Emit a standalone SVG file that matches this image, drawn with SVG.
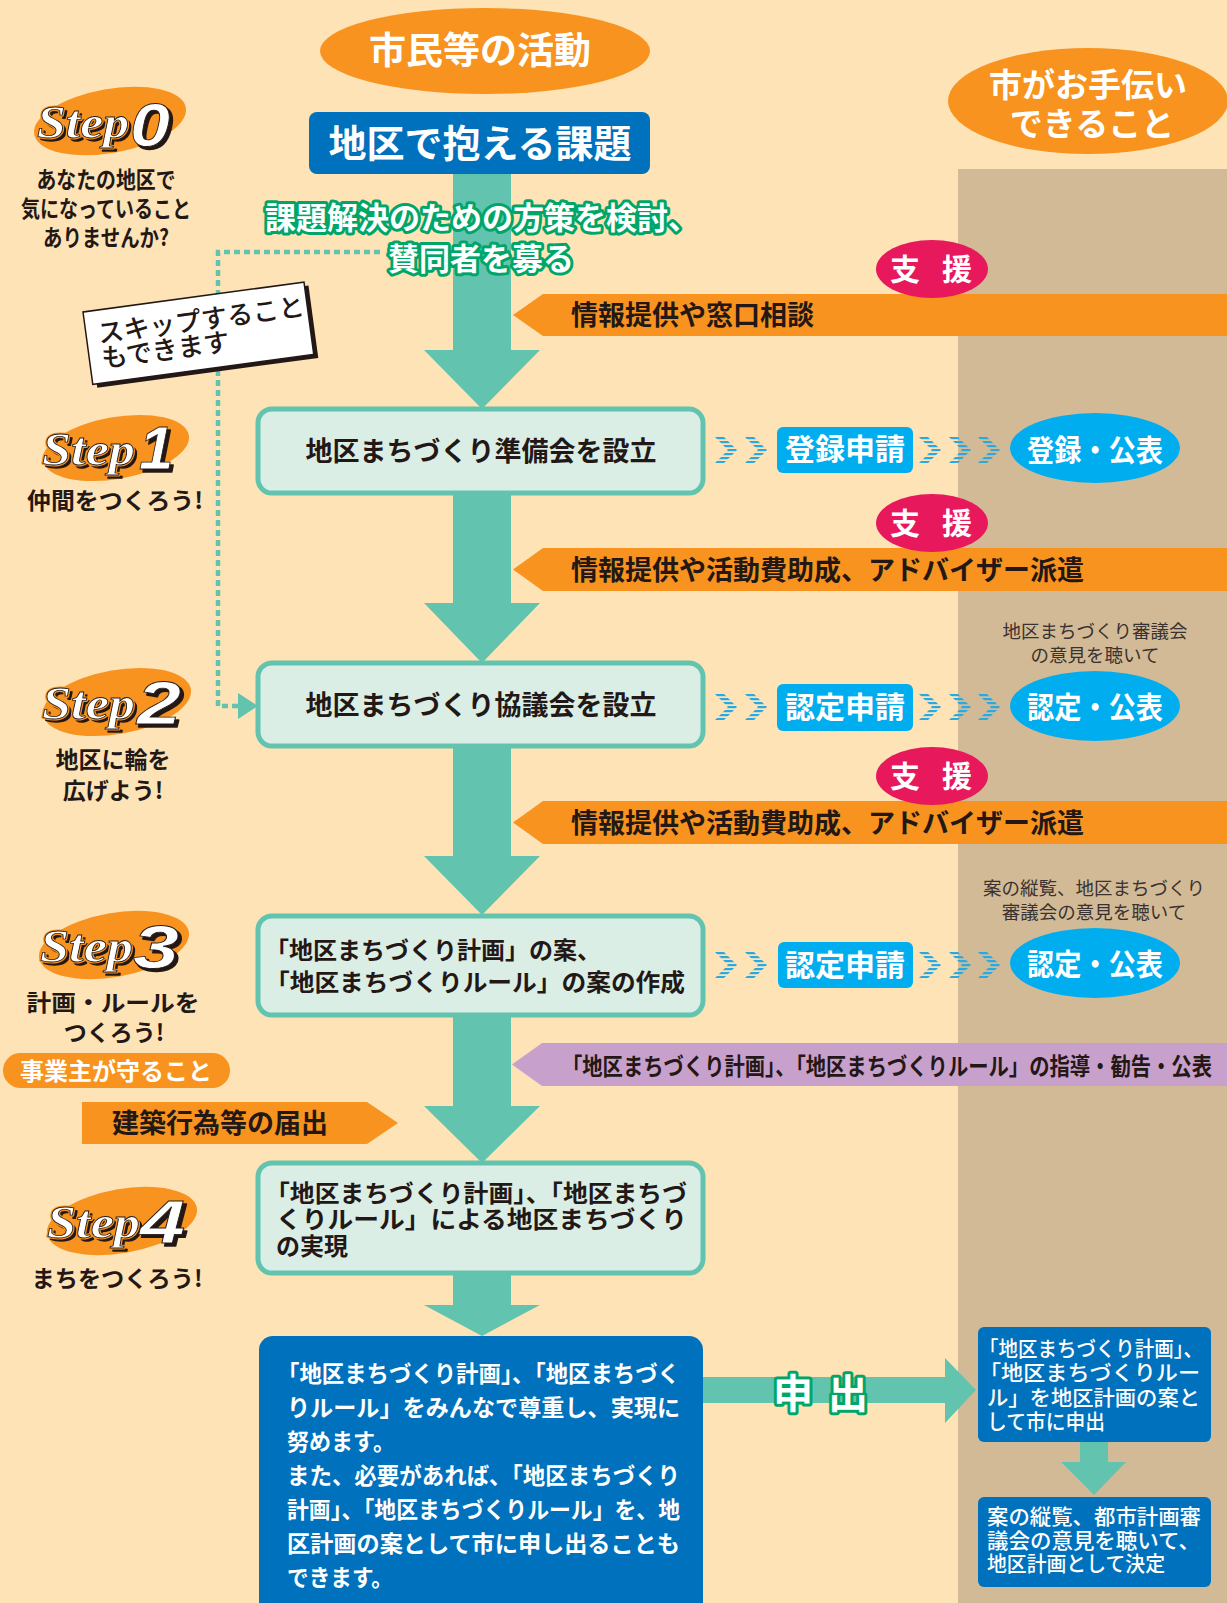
<svg xmlns="http://www.w3.org/2000/svg" width="1227" height="1603" viewBox="0 0 1227 1603">
<defs>
<style>
text{font-family:'Noto Sans CJK JP','Noto Sans',sans-serif;}
.b{font-weight:700}
.dk{fill:#231815}
.wh{fill:#fff}
.shaft{fill:#62C4AE}
.stepbox{fill:#DAEEE6;stroke:#62C4AE;stroke-width:5}
.orange{fill:#F7931E}
.pink{fill:#E8185D}
.cyan{fill:#00AEEF}
.blue{fill:#0071BC}
.chev{fill:url(#stripes)}
.green{fill:#fff;stroke:#00A669;stroke-width:6;paint-order:stroke;stroke-linejoin:round}
.stepw{font-family:'Liberation Serif',serif;font-style:italic;font-weight:700;font-size:46px}
.stepn{font-family:'Liberation Sans',sans-serif;font-style:italic;font-weight:700;font-size:62px}
.shadow{fill:#231815;stroke:#231815;stroke-width:1.5;stroke-linejoin:round}
.halo{fill:#fff;stroke:#F7931E;stroke-width:3;stroke-linejoin:round}
.front{fill:#fff;stroke:#231815;stroke-width:0.8}
.sub{font-size:23px;font-weight:700;fill:#231815;text-anchor:middle}
.note{font-size:18.5px;fill:#3a3230;text-anchor:middle}
.mid{text-anchor:middle}
.dots{fill:none;stroke:#62C4AE;stroke-width:4.5;stroke-dasharray:6 4}
</style>
<pattern id="stripes" patternUnits="userSpaceOnUse" width="6" height="4"><rect width="6" height="2.2" fill="#29A9E1"/></pattern>
<polygon id="chev" points="0,0 9,0 22,13 9,26 0,26 13,13"/>
</defs>

<rect width="1227" height="1603" fill="#FDE3B5"/>
<rect x="958" y="169" width="269" height="1434" fill="#D2BA96"/>

<g id="connectors">
  <polygon class="shaft" points="453,174 511,174 511,350 540,350 482,409 424,350 453,350"/>
  <polygon class="shaft" points="453,493 511,493 511,603 540,603 482,663 424,603 453,603"/>
  <polygon class="shaft" points="453,746 511,746 511,856 540,856 482,915 424,856 453,856"/>
  <polygon class="shaft" points="453,1015 511,1015 511,1106 540,1106 482,1163 424,1106 453,1106"/>
  <polygon class="shaft" points="453,1273 511,1273 511,1305 540,1305 482,1336 424,1305 453,1305"/>
  <path class="dots" d="M380,252 H218 V706 H238"/>
  <polygon class="shaft" points="238,693 258,706 238,719"/>
  <polygon class="shaft" points="703,1377 945,1377 945,1358 976,1390 945,1423 945,1403 703,1403"/>
  <polygon class="shaft" points="1080,1442 1108,1442 1108,1462 1126,1462 1094,1495 1061,1462 1080,1462"/>
  <use href="#chev" class="chev" x="715" y="437"/>
  <use href="#chev" class="chev" x="745" y="437"/>
  <use href="#chev" class="chev" x="919" y="437"/>
  <use href="#chev" class="chev" x="949" y="437"/>
  <use href="#chev" class="chev" x="978" y="437"/>
  <use href="#chev" class="chev" x="715" y="694"/>
  <use href="#chev" class="chev" x="745" y="694"/>
  <use href="#chev" class="chev" x="919" y="694"/>
  <use href="#chev" class="chev" x="949" y="694"/>
  <use href="#chev" class="chev" x="978" y="694"/>
  <use href="#chev" class="chev" x="715" y="952"/>
  <use href="#chev" class="chev" x="745" y="952"/>
  <use href="#chev" class="chev" x="919" y="952"/>
  <use href="#chev" class="chev" x="949" y="952"/>
  <use href="#chev" class="chev" x="978" y="952"/>
  <text class="green b" x="773" y="1408" font-size="40">申</text>
  <text class="green b" x="828" y="1408" font-size="40">出</text>
</g>

<g id="title-citizen">
  <ellipse class="orange" cx="485" cy="51" rx="165" ry="43"/>
  <text class="wh b mid" x="480" y="64" font-size="37">市民等の活動</text>
</g>
<g id="title-city">
  <ellipse class="orange" cx="1088" cy="101" rx="140" ry="53"/>
  <text class="wh b mid" x="1088" y="97" font-size="33">市がお手伝い</text>
  <text class="wh b mid" x="1092" y="136" font-size="33">できること</text>
</g>

<g id="issue">
  <rect class="blue" x="309" y="112" width="341" height="62" rx="8"/>
  <text class="wh b mid" x="480" y="157" font-size="38">地区で抱える課題</text>
</g>
<g id="consider">
  <text class="green b mid" x="482" y="229" font-size="31">課題解決のための方策を検討、</text>
  <text class="green b mid" x="481" y="270" font-size="31">賛同者を募る</text>
</g>

<g id="skip" transform="translate(83,312) rotate(-7.7)">
  <rect x="4" y="4" width="223" height="73" fill="#231815"/>
  <rect x="0" y="0" width="223" height="73" fill="#fff" stroke="#231815" stroke-width="1.5"/>
  <text class="dk" x="12" y="33" font-size="26" font-weight="500">スキップすること</text>
  <text class="dk" x="12" y="58" font-size="26" font-weight="500">もできます</text>
</g>

<g id="step0">
  <ellipse class="orange" cx="110" cy="121" rx="77" ry="32" transform="rotate(-10 110 121)"/>
  <text class="stepw shadow" x="40" y="141" textLength="92" lengthAdjust="spacingAndGlyphs">Step</text>
  <text class="stepw halo" x="37" y="138" textLength="92" lengthAdjust="spacingAndGlyphs">Step</text>
  <text class="stepw front" x="37" y="138" textLength="92" lengthAdjust="spacingAndGlyphs">Step</text>
  <text class="stepn shadow" x="133" y="149" textLength="40" lengthAdjust="spacingAndGlyphs">0</text>
  <text class="stepn front" x="130" y="146" textLength="40" lengthAdjust="spacingAndGlyphs">0</text>
  <text class="sub" x="106" y="188" textLength="139" lengthAdjust="spacingAndGlyphs">あなたの地区で</text>
  <text class="sub" x="106" y="217" textLength="170" lengthAdjust="spacingAndGlyphs">気になっていること</text>
  <text class="sub" x="106" y="246" textLength="126" lengthAdjust="spacingAndGlyphs">ありませんか?</text>
</g>

<g id="step1">
  <ellipse class="orange" cx="116" cy="448" rx="74" ry="31" transform="rotate(-10 116 448)"/>
  <text class="stepw shadow" x="45" y="468" textLength="93" lengthAdjust="spacingAndGlyphs">Step</text>
  <text class="stepw halo" x="42" y="465" textLength="93" lengthAdjust="spacingAndGlyphs">Step</text>
  <text class="stepw front" x="42" y="465" textLength="93" lengthAdjust="spacingAndGlyphs">Step</text>
  <text class="stepn shadow" x="142" y="472">1</text>
  <text class="stepn front" x="139" y="469">1</text>
  <text class="sub" x="115" y="509" textLength="176" lengthAdjust="spacingAndGlyphs">仲間をつくろう!</text>
</g>
<g id="box1">
  <rect class="stepbox" x="258" y="409" width="445" height="84" rx="14"/>
  <text class="dk b mid" x="481" y="461" font-size="27">地区まちづくり準備会を設立</text>
</g>
<g id="apply1">
  <rect class="cyan" x="777" y="427" width="136" height="46" rx="6"/>
  <text class="wh b mid" x="845" y="460" font-size="30">登録申請</text>
</g>
<g id="result1">
  <ellipse class="cyan" cx="1095" cy="448" rx="85" ry="35"/>
  <text class="wh b mid" x="1095" y="461" font-size="30" textLength="136" lengthAdjust="spacingAndGlyphs">登録・公表</text>
</g>
<g id="support1">
  <polygon class="orange" points="513,315 543,294 1227,294 1227,336 543,336"/>
  <ellipse class="pink" cx="932" cy="269" rx="56" ry="29"/>
  <text class="wh b" x="890" y="280" font-size="30">支</text>
  <text class="wh b" x="942" y="280" font-size="30">援</text>
  <text class="dk b" x="571" y="325" font-size="27">情報提供や窓口相談</text>
</g>

<g id="support2">
  <polygon class="orange" points="513,569.5 543,548 1227,548 1227,591 543,591"/>
  <ellipse class="pink" cx="932" cy="523" rx="56" ry="29"/>
  <text class="wh b" x="890" y="534" font-size="30">支</text>
  <text class="wh b" x="942" y="534" font-size="30">援</text>
  <text class="dk b" x="571" y="580" font-size="27">情報提供や活動費助成、アドバイザー派遣</text>
</g>

<g id="step2">
  <ellipse class="orange" cx="117" cy="702" rx="75" ry="32" transform="rotate(-10 117 702)"/>
  <text class="stepw shadow" x="45" y="722" textLength="93" lengthAdjust="spacingAndGlyphs">Step</text>
  <text class="stepw halo" x="42" y="719" textLength="93" lengthAdjust="spacingAndGlyphs">Step</text>
  <text class="stepw front" x="42" y="719" textLength="93" lengthAdjust="spacingAndGlyphs">Step</text>
  <text class="stepn shadow" x="140" y="727" textLength="44" lengthAdjust="spacingAndGlyphs">2</text>
  <text class="stepn front" x="137" y="724" textLength="44" lengthAdjust="spacingAndGlyphs">2</text>
  <text class="sub" x="113" y="768" font-size="24">地区に輪を</text>
  <text class="sub" x="113" y="799" font-size="24">広げよう!</text>
</g>
<g id="box2">
  <rect class="stepbox" x="258" y="663" width="445" height="83" rx="14"/>
  <text class="dk b mid" x="481" y="715" font-size="27">地区まちづくり協議会を設立</text>
</g>
<g id="apply2">
  <rect class="cyan" x="777" y="684" width="136" height="47" rx="6"/>
  <text class="wh b mid" x="845" y="718" font-size="30">認定申請</text>
</g>
<g id="result2">
  <text class="note" x="1095" y="638">地区まちづくり審議会</text>
  <text class="note" x="1095" y="662">の意見を聴いて</text>
  <ellipse class="cyan" cx="1095" cy="706" rx="85" ry="35"/>
  <text class="wh b mid" x="1095" y="718" font-size="30" textLength="136" lengthAdjust="spacingAndGlyphs">認定・公表</text>
</g>

<g id="support3">
  <polygon class="orange" points="513,822.5 543,801 1227,801 1227,844 543,844"/>
  <ellipse class="pink" cx="932" cy="776" rx="56" ry="29"/>
  <text class="wh b" x="890" y="787" font-size="30">支</text>
  <text class="wh b" x="942" y="787" font-size="30">援</text>
  <text class="dk b" x="571" y="833" font-size="27">情報提供や活動費助成、アドバイザー派遣</text>
</g>

<g id="step3">
  <ellipse class="orange" cx="114" cy="945" rx="76" ry="32" transform="rotate(-10 114 945)"/>
  <text class="stepw shadow" x="43" y="965" textLength="93" lengthAdjust="spacingAndGlyphs">Step</text>
  <text class="stepw halo" x="40" y="962" textLength="93" lengthAdjust="spacingAndGlyphs">Step</text>
  <text class="stepw front" x="40" y="962" textLength="93" lengthAdjust="spacingAndGlyphs">Step</text>
  <text class="stepn shadow" x="136" y="971" textLength="46" lengthAdjust="spacingAndGlyphs">3</text>
  <text class="stepn front" x="133" y="968" textLength="46" lengthAdjust="spacingAndGlyphs">3</text>
  <text class="sub" x="113" y="1011" font-size="24" textLength="173" lengthAdjust="spacingAndGlyphs">計画・ルールを</text>
  <text class="sub" x="114" y="1041" font-size="24">つくろう!</text>
</g>
<g id="box3">
  <rect class="stepbox" x="258" y="916" width="445" height="99" rx="14"/>
  <text class="dk b" x="265" y="959" font-size="24">「地区まちづくり計画」の案、</text>
  <text class="dk b" x="265" y="991" font-size="24" textLength="420" lengthAdjust="spacingAndGlyphs">「地区まちづくりルール」の案の作成</text>
</g>
<g id="apply3">
  <rect class="cyan" x="778" y="942" width="135" height="46" rx="6"/>
  <text class="wh b mid" x="845" y="976" font-size="30">認定申請</text>
</g>
<g id="result3">
  <text class="note" x="1094" y="895">案の縦覧、地区まちづくり</text>
  <text class="note" x="1094" y="919">審議会の意見を聴いて</text>
  <ellipse class="cyan" cx="1095" cy="963" rx="85" ry="35"/>
  <text class="wh b mid" x="1095" y="975" font-size="30" textLength="136" lengthAdjust="spacingAndGlyphs">認定・公表</text>
</g>

<g id="guidance">
  <polygon points="512,1064.5 542,1043 1227,1043 1227,1086 542,1086" fill="#C8A0CC"/>
  <text class="dk b" x="562" y="1075" font-size="24" textLength="650" lengthAdjust="spacingAndGlyphs">「地区まちづくり計画」、「地区まちづくりルール」の指導・勧告・公表</text>
</g>
<g id="owner">
  <rect class="orange" x="3" y="1053" width="227" height="35" rx="17.5"/>
  <text class="wh b" x="20" y="1080" font-size="24">事業主が守ること</text>
</g>
<g id="notify">
  <polygon class="orange" points="82,1102 367,1102 398,1123 367,1144 82,1144"/>
  <text class="dk b" x="112" y="1133" font-size="27">建築行為等の届出</text>
</g>

<g id="step4">
  <ellipse class="orange" cx="122" cy="1221" rx="76" ry="32" transform="rotate(-10 122 1221)"/>
  <text class="stepw shadow" x="50" y="1241" textLength="93" lengthAdjust="spacingAndGlyphs">Step</text>
  <text class="stepw halo" x="47" y="1238" textLength="93" lengthAdjust="spacingAndGlyphs">Step</text>
  <text class="stepw front" x="47" y="1238" textLength="93" lengthAdjust="spacingAndGlyphs">Step</text>
  <text class="stepn shadow" x="143" y="1246" textLength="45" lengthAdjust="spacingAndGlyphs">4</text>
  <text class="stepn front" x="140" y="1243" textLength="45" lengthAdjust="spacingAndGlyphs">4</text>
  <text class="sub" x="117" y="1287" textLength="171" lengthAdjust="spacingAndGlyphs">まちをつくろう!</text>
</g>
<g id="box4">
  <rect class="stepbox" x="258" y="1163" width="445" height="110" rx="14"/>
  <text class="dk b" x="265" y="1202" font-size="24" textLength="422" lengthAdjust="spacingAndGlyphs">「地区まちづくり計画」、「地区まちづ</text>
  <text class="dk b" x="276" y="1228" font-size="24" textLength="411" lengthAdjust="spacingAndGlyphs">くりルール」による地区まちづくり</text>
  <text class="dk b" x="276" y="1255" font-size="24">の実現</text>
</g>

<g id="respect">
  <rect class="blue" x="259" y="1336" width="444" height="290" rx="14"/>
  <text class="wh b" x="277" y="1382" font-size="23" textLength="403" lengthAdjust="spacingAndGlyphs">「地区まちづくり計画」、「地区まちづく</text>
  <text class="wh b" x="287" y="1416" font-size="23" textLength="393" lengthAdjust="spacingAndGlyphs">りルール」をみんなで尊重し、実現に</text>
  <text class="wh b" x="287" y="1450" font-size="23" textLength="108" lengthAdjust="spacingAndGlyphs">努めます。</text>
  <text class="wh b" x="287" y="1484" font-size="23" textLength="393" lengthAdjust="spacingAndGlyphs">また、必要があれば、「地区まちづくり</text>
  <text class="wh b" x="287" y="1518" font-size="23" textLength="393" lengthAdjust="spacingAndGlyphs">計画」、「地区まちづくりルール」を、地</text>
  <text class="wh b" x="287" y="1552" font-size="23" textLength="393" lengthAdjust="spacingAndGlyphs">区計画の案として市に申し出ることも</text>
  <text class="wh b" x="287" y="1586" font-size="23" textLength="106" lengthAdjust="spacingAndGlyphs">できます。</text>
</g>

<g id="submit">
  <rect class="blue" x="978" y="1327" width="233" height="115" rx="6"/>
  <text class="wh" font-weight="500" x="979" y="1356" font-size="21" textLength="224" lengthAdjust="spacingAndGlyphs">「地区まちづくり計画」、</text>
  <text class="wh" font-weight="500" x="979" y="1380" font-size="21" textLength="221" lengthAdjust="spacingAndGlyphs">「地区まちづくりルー</text>
  <text class="wh" font-weight="500" x="987" y="1405" font-size="21" textLength="213" lengthAdjust="spacingAndGlyphs">ル」を地区計画の案と</text>
  <text class="wh" font-weight="500" x="987" y="1429" font-size="21" textLength="118" lengthAdjust="spacingAndGlyphs">して市に申出</text>
</g>
<g id="decide">
  <rect class="blue" x="978" y="1497" width="233" height="90" rx="6"/>
  <text class="wh" font-weight="500" x="987" y="1524" font-size="21" textLength="214" lengthAdjust="spacingAndGlyphs">案の縦覧、都市計画審</text>
  <text class="wh" font-weight="500" x="987" y="1548" font-size="21" textLength="213" lengthAdjust="spacingAndGlyphs">議会の意見を聴いて、</text>
  <text class="wh" font-weight="500" x="987" y="1571" font-size="21" textLength="178" lengthAdjust="spacingAndGlyphs">地区計画として決定</text>
</g>
</svg>
